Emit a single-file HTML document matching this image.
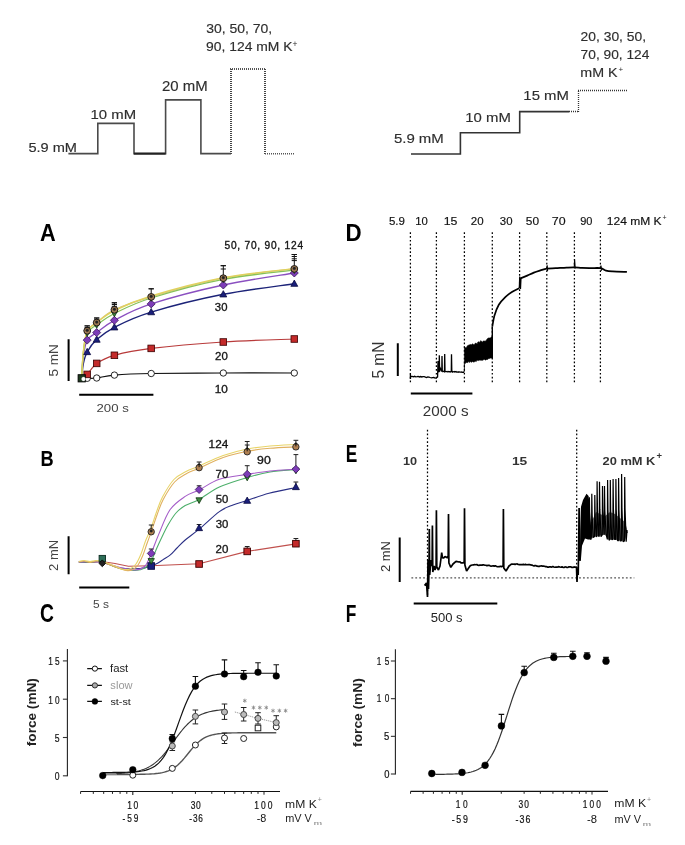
<!DOCTYPE html>
<html><head><meta charset="utf-8"><title>Figure</title>
<style>
html,body{margin:0;padding:0;background:#fff;}
body{width:685px;height:845px;overflow:hidden;}
svg{display:block;font-family:"Liberation Sans",sans-serif;will-change:transform;}
</style></head><body>
<svg width="685" height="845" viewBox="0 0 685 845">
<rect width="685" height="845" fill="#fff"/>
<g fill="none" stroke-linejoin="miter">
<path d="M68.4,153.6 H97.8 V123.4 H134 V153.6 H165.6 V99.9 H200.9 V153.6 H231" stroke="#4a4a4a" stroke-width="1.6"/>
<path d="M134,153.6 H165.6" stroke="#222" stroke-width="2"/>
<path d="M231,154 V69" stroke="#444" stroke-width="2" stroke-dasharray="1,1"/>
<path d="M230,69 H266" stroke="#555" stroke-width="1.8" stroke-dasharray="1,1"/>
<path d="M265,69 V154" stroke="#444" stroke-width="2" stroke-dasharray="1,1"/>
<path d="M265,153.8 H295" stroke="#555" stroke-width="1.6" stroke-dasharray="1,1"/>
<path d="M411,154 H460.4 V132.8 H519.7 V111.6 H569" stroke="#333" stroke-width="1.6"/>
<path d="M569,111.5 H578" stroke="#333" stroke-width="1.3" stroke-dasharray="1,1"/>
<path d="M578.5,112 V90" stroke="#333" stroke-width="1.3" stroke-dasharray="1,1"/>
<path d="M578,90.5 H628" stroke="#333" stroke-width="1.3" stroke-dasharray="1,1"/>
</g>
<text x="28.42" y="151.50" style="font-size:13.37px;" fill="#2e2e2e" textLength="48.58" lengthAdjust="spacingAndGlyphs" stroke="#2e2e2e" stroke-width="0.15">5.9 mM</text>
<text x="90.56" y="119.30" style="font-size:13.37px;" fill="#2e2e2e" textLength="45.56" lengthAdjust="spacingAndGlyphs" stroke="#2e2e2e" stroke-width="0.15">10 mM</text>
<text x="162.05" y="90.90" style="font-size:13.95px;" fill="#2e2e2e" textLength="45.68" lengthAdjust="spacingAndGlyphs" stroke="#2e2e2e" stroke-width="0.15">20 mM</text>
<text x="206.17" y="33.10" style="font-size:13.23px;" fill="#2e2e2e" textLength="66.09" lengthAdjust="spacingAndGlyphs" stroke="#2e2e2e" stroke-width="0.15">30, 50, 70,</text>
<text x="206.05" y="50.90" style="font-size:12.94px;" fill="#2e2e2e" textLength="86.41" lengthAdjust="spacingAndGlyphs" stroke="#2e2e2e" stroke-width="0.15">90, 124 mM K</text>
<text x="292.6" y="47.2" style="font-size:8.5px" fill="#2e2e2e">+</text>
<text x="393.90" y="143.00" style="font-size:13.66px;" fill="#2e2e2e" textLength="49.93" lengthAdjust="spacingAndGlyphs" stroke="#2e2e2e" stroke-width="0.15">5.9 mM</text>
<text x="465.26" y="122.00" style="font-size:13.52px;" fill="#2e2e2e" textLength="45.56" lengthAdjust="spacingAndGlyphs" stroke="#2e2e2e" stroke-width="0.15">10 mM</text>
<text x="523.36" y="99.70" style="font-size:13.23px;" fill="#2e2e2e" textLength="45.56" lengthAdjust="spacingAndGlyphs" stroke="#2e2e2e" stroke-width="0.15">15 mM</text>
<text x="580.60" y="41.30" style="font-size:13.37px;" fill="#2e2e2e" textLength="65.44" lengthAdjust="spacingAndGlyphs" stroke="#2e2e2e" stroke-width="0.15">20, 30, 50,</text>
<text x="580.60" y="58.90" style="font-size:13.23px;" fill="#2e2e2e" textLength="68.81" lengthAdjust="spacingAndGlyphs" stroke="#2e2e2e" stroke-width="0.15">70, 90, 124</text>
<text x="580.35" y="77.10" style="font-size:13.66px;" fill="#2e2e2e" textLength="37.31" lengthAdjust="spacingAndGlyphs" stroke="#2e2e2e" stroke-width="0.15">mM K</text>
<text x="618.5" y="71.5" style="font-size:8px" fill="#2e2e2e">+</text>
<text x="39.96" y="240.70" style="font-size:23.40px;font-weight:bold;" fill="#000" textLength="15.72" lengthAdjust="spacingAndGlyphs">A</text>
<text x="40.48" y="465.70" style="font-size:22.97px;font-weight:bold;" fill="#000" textLength="13.14" lengthAdjust="spacingAndGlyphs">B</text>
<text x="40.01" y="621.60" style="font-size:24.85px;font-weight:bold;" fill="#000" textLength="13.92" lengthAdjust="spacingAndGlyphs">C</text>
<text x="345.51" y="240.70" style="font-size:23.40px;font-weight:bold;" fill="#000" textLength="16.13" lengthAdjust="spacingAndGlyphs">D</text>
<text x="345.84" y="462.40" style="font-size:24.13px;font-weight:bold;" fill="#000" textLength="11.53" lengthAdjust="spacingAndGlyphs">E</text>
<text x="345.84" y="621.70" style="font-size:24.13px;font-weight:bold;" fill="#000" textLength="10.60" lengthAdjust="spacingAndGlyphs">F</text>
<g>
<path d="M81.70,378.30 C81.97,378.30 82.38,378.30 83.30,378.30 C84.22,378.30 84.97,378.35 87.20,378.30 C89.43,378.25 92.17,378.53 96.70,378.00 C101.23,377.47 105.32,375.85 114.40,375.10 C123.48,374.35 133.05,373.85 151.20,373.50 C169.35,373.15 199.45,373.08 223.30,373.00 C247.15,372.92 282.47,373.00 294.30,373.00" fill="none" stroke="#111" stroke-width="1.20"/>
<path d="M81.70,378.30 C81.97,377.94 82.38,376.80 83.30,376.15 C84.22,375.50 84.97,376.53 87.20,374.40 C89.43,372.27 92.17,366.58 96.70,363.40 C101.23,360.22 105.32,357.80 114.40,355.30 C123.48,352.80 133.05,350.62 151.20,348.40 C169.35,346.18 199.45,343.57 223.30,342.00 C247.15,340.43 282.47,339.50 294.30,339.00" fill="none" stroke="#b83a3a" stroke-width="1.20"/>
<path d="M81.70,378.30 C81.97,375.89 82.38,368.22 83.30,363.83 C84.22,359.45 84.97,356.04 87.20,352.00 C89.43,347.96 92.17,343.72 96.70,339.60 C101.23,335.48 105.32,331.88 114.40,327.30 C123.48,322.72 133.05,317.60 151.20,312.10 C169.35,306.60 199.45,299.03 223.30,294.30 C247.15,289.57 282.47,285.47 294.30,283.70" fill="none" stroke="#1c2378" stroke-width="1.40"/>
<path d="M81.70,378.30 C81.97,374.80 82.38,363.66 83.30,357.29 C84.22,350.92 84.97,344.22 87.20,340.10 C89.43,335.99 92.17,335.90 96.70,332.60 C101.23,329.30 105.32,325.08 114.40,320.30 C123.48,315.52 133.05,309.78 151.20,303.90 C169.35,298.02 199.45,290.15 223.30,285.00 C247.15,279.85 282.47,275.00 294.30,273.00" fill="none" stroke="#8a4fc0" stroke-width="1.30"/>
<path d="M81.70,378.30 C81.97,373.95 82.38,360.09 83.30,352.18 C84.22,344.26 84.97,335.73 87.20,330.80 C89.43,325.87 92.17,326.10 96.70,322.60 C101.23,319.10 105.32,314.08 114.40,309.80 C123.48,305.52 133.05,302.17 151.20,296.90 C169.35,291.63 199.45,282.87 223.30,278.20 C247.15,273.53 282.47,270.45 294.30,268.90" fill="none" stroke="#d8c088" stroke-width="1.20"/>
<path d="M81.70,378.30 C81.97,374.15 82.38,360.94 83.30,353.38 C84.22,345.83 84.97,337.73 87.20,333.00 C89.43,328.27 92.17,328.25 96.70,325.00 C101.23,321.75 105.32,318.00 114.40,313.50 C123.48,309.00 133.05,303.70 151.20,298.00 C169.35,292.30 199.45,283.93 223.30,279.30 C247.15,274.67 282.47,271.72 294.30,270.20" fill="none" stroke="#86c258" stroke-width="1.30"/>
<path d="M81.70,378.30 C81.97,373.96 82.38,360.17 83.30,352.29 C84.22,344.40 84.97,335.95 87.20,331.00 C89.43,326.05 92.17,326.02 96.70,322.60 C101.23,319.18 105.32,314.93 114.40,310.50 C123.48,306.07 133.05,301.45 151.20,296.00 C169.35,290.55 199.45,282.37 223.30,277.80 C247.15,273.23 282.47,270.13 294.30,268.60" fill="none" stroke="#e0d25e" stroke-width="1.40"/>
<path d="M87.20,330.80 V325.90 M84.60,325.90 H89.80" fill="none" stroke="#111" stroke-width="1.00"/>
<path d="M84.60,325.90 H89.80" stroke="#111" stroke-width="1.0"/>
<path d="M84.60,327.50 H89.80" stroke="#111" stroke-width="1.0"/>
<path d="M96.70,322.60 V318.00 M94.10,318.00 H99.30" fill="none" stroke="#111" stroke-width="1.00"/>
<path d="M94.10,318.00 H99.30" stroke="#111" stroke-width="1.0"/>
<path d="M94.10,319.80 H99.30" stroke="#111" stroke-width="1.0"/>
<path d="M114.40,309.80 V302.80 M111.80,302.80 H117.00" fill="none" stroke="#111" stroke-width="1.00"/>
<path d="M111.80,302.80 H117.00" stroke="#111" stroke-width="1.0"/>
<path d="M111.80,304.50 H117.00" stroke="#111" stroke-width="1.0"/>
<path d="M111.80,306.30 H117.00" stroke="#111" stroke-width="1.0"/>
<path d="M151.20,296.90 V288.80 M148.60,288.80 H153.80" fill="none" stroke="#111" stroke-width="1.00"/>
<path d="M148.60,288.80 H153.80" stroke="#111" stroke-width="1.0"/>
<path d="M223.30,278.20 V265.70 M220.70,265.70 H225.90" fill="none" stroke="#111" stroke-width="1.00"/>
<path d="M220.70,265.70 H225.90" stroke="#111" stroke-width="1.0"/>
<path d="M220.70,269.00 H225.90" stroke="#111" stroke-width="1.0"/>
<path d="M294.30,268.90 V254.50 M291.70,254.50 H296.90" fill="none" stroke="#111" stroke-width="1.00"/>
<path d="M291.70,254.50 H296.90" stroke="#111" stroke-width="1.0"/>
<path d="M291.70,256.50 H296.90" stroke="#111" stroke-width="1.0"/>
<path d="M291.70,258.80 H296.90" stroke="#111" stroke-width="1.0"/>
<path d="M291.70,260.60 H296.90" stroke="#111" stroke-width="1.0"/>
<circle cx="87.20" cy="378.30" r="3.20" fill="#fff" stroke="#111" stroke-width="0.90"/>
<rect x="83.90" y="371.10" width="6.60" height="6.60" fill="#c42a2a" stroke="#3a0000" stroke-width="0.80"/>
<path d="M87.20,348.37 L83.73,354.64 L90.67,354.64Z" fill="#1a1f7a" stroke="#0a0a40" stroke-width="0.80"/>
<path d="M87.20,336.10 L91.20,340.10 L87.20,344.10 L83.20,340.10Z" fill="#7d3cb8" stroke="#3a1a5a" stroke-width="0.80"/>
<path d="M87.20,336.30 L84.05,330.60 L90.35,330.60Z" fill="#3d8a3d" stroke="#0a300a" stroke-width="0.80"/>
<circle cx="87.20" cy="330.80" r="3.40" fill="#a07a52" stroke="#111" stroke-width="0.90"/>
<circle cx="87.20" cy="330.30" r="1.40" fill="#222" stroke="#222" stroke-width="0.30"/>
<circle cx="96.70" cy="378.00" r="3.20" fill="#fff" stroke="#111" stroke-width="0.90"/>
<rect x="93.40" y="360.10" width="6.60" height="6.60" fill="#c42a2a" stroke="#3a0000" stroke-width="0.80"/>
<path d="M96.70,335.97 L93.23,342.24 L100.17,342.24Z" fill="#1a1f7a" stroke="#0a0a40" stroke-width="0.80"/>
<path d="M96.70,328.60 L100.70,332.60 L96.70,336.60 L92.70,332.60Z" fill="#7d3cb8" stroke="#3a1a5a" stroke-width="0.80"/>
<path d="M96.70,328.30 L93.55,322.60 L99.85,322.60Z" fill="#3d8a3d" stroke="#0a300a" stroke-width="0.80"/>
<circle cx="96.70" cy="322.60" r="3.40" fill="#a07a52" stroke="#111" stroke-width="0.90"/>
<circle cx="96.70" cy="322.10" r="1.40" fill="#222" stroke="#222" stroke-width="0.30"/>
<circle cx="114.40" cy="375.10" r="3.20" fill="#fff" stroke="#111" stroke-width="0.90"/>
<rect x="111.10" y="352.00" width="6.60" height="6.60" fill="#c42a2a" stroke="#3a0000" stroke-width="0.80"/>
<path d="M114.40,323.67 L110.94,329.94 L117.87,329.94Z" fill="#1a1f7a" stroke="#0a0a40" stroke-width="0.80"/>
<path d="M114.40,316.30 L118.40,320.30 L114.40,324.30 L110.40,320.30Z" fill="#7d3cb8" stroke="#3a1a5a" stroke-width="0.80"/>
<path d="M114.40,316.80 L111.25,311.10 L117.55,311.10Z" fill="#3d8a3d" stroke="#0a300a" stroke-width="0.80"/>
<circle cx="114.40" cy="309.80" r="3.40" fill="#a07a52" stroke="#111" stroke-width="0.90"/>
<circle cx="114.40" cy="309.30" r="1.40" fill="#222" stroke="#222" stroke-width="0.30"/>
<circle cx="151.20" cy="373.50" r="3.20" fill="#fff" stroke="#111" stroke-width="0.90"/>
<rect x="147.90" y="345.10" width="6.60" height="6.60" fill="#c42a2a" stroke="#3a0000" stroke-width="0.80"/>
<path d="M151.20,308.47 L147.73,314.74 L154.66,314.74Z" fill="#1a1f7a" stroke="#0a0a40" stroke-width="0.80"/>
<path d="M151.20,299.90 L155.20,303.90 L151.20,307.90 L147.20,303.90Z" fill="#7d3cb8" stroke="#3a1a5a" stroke-width="0.80"/>
<path d="M151.20,301.30 L148.05,295.60 L154.35,295.60Z" fill="#3d8a3d" stroke="#0a300a" stroke-width="0.80"/>
<circle cx="151.20" cy="296.90" r="3.40" fill="#a07a52" stroke="#111" stroke-width="0.90"/>
<circle cx="151.20" cy="296.40" r="1.40" fill="#222" stroke="#222" stroke-width="0.30"/>
<circle cx="223.30" cy="373.00" r="3.20" fill="#fff" stroke="#111" stroke-width="0.90"/>
<rect x="220.00" y="338.70" width="6.60" height="6.60" fill="#c42a2a" stroke="#3a0000" stroke-width="0.80"/>
<path d="M223.30,290.67 L219.84,296.94 L226.77,296.94Z" fill="#1a1f7a" stroke="#0a0a40" stroke-width="0.80"/>
<path d="M223.30,281.00 L227.30,285.00 L223.30,289.00 L219.30,285.00Z" fill="#7d3cb8" stroke="#3a1a5a" stroke-width="0.80"/>
<path d="M223.30,282.60 L220.15,276.90 L226.45,276.90Z" fill="#3d8a3d" stroke="#0a300a" stroke-width="0.80"/>
<circle cx="223.30" cy="278.20" r="3.40" fill="#a07a52" stroke="#111" stroke-width="0.90"/>
<circle cx="223.30" cy="277.70" r="1.40" fill="#222" stroke="#222" stroke-width="0.30"/>
<circle cx="294.30" cy="373.00" r="3.20" fill="#fff" stroke="#111" stroke-width="0.90"/>
<rect x="291.00" y="335.70" width="6.60" height="6.60" fill="#c42a2a" stroke="#3a0000" stroke-width="0.80"/>
<path d="M294.30,280.07 L290.84,286.34 L297.76,286.34Z" fill="#1a1f7a" stroke="#0a0a40" stroke-width="0.80"/>
<path d="M294.30,269.00 L298.30,273.00 L294.30,277.00 L290.30,273.00Z" fill="#7d3cb8" stroke="#3a1a5a" stroke-width="0.80"/>
<path d="M294.30,273.50 L291.15,267.80 L297.45,267.80Z" fill="#3d8a3d" stroke="#0a300a" stroke-width="0.80"/>
<circle cx="294.30" cy="268.90" r="3.40" fill="#a07a52" stroke="#111" stroke-width="0.90"/>
<circle cx="294.30" cy="268.40" r="1.40" fill="#222" stroke="#222" stroke-width="0.30"/>
<rect x="78.10" y="374.70" width="7.20" height="7.20" fill="#1f3a1f" stroke="#000" stroke-width="0.90"/>
<circle cx="83.50" cy="379.00" r="2.00" fill="#fff" stroke="#fff" stroke-width="0.20"/>
</g>
<text transform="translate(224.90 248.50) scale(1.000 1)" x="-0.41" y="0" style="font-size:10.17px;letter-spacing:0.77px;" fill="#151515" stroke="#151515" stroke-width="0.35">50, 70, 90, 124</text>
<text x="214.87" y="310.70" style="font-size:10.17px;" fill="#151515" textLength="12.57" lengthAdjust="spacingAndGlyphs" stroke="#151515" stroke-width="0.30">30</text>
<text x="215.02" y="360.20" style="font-size:10.17px;" fill="#151515" textLength="12.72" lengthAdjust="spacingAndGlyphs" stroke="#151515" stroke-width="0.30">20</text>
<text x="214.71" y="392.50" style="font-size:10.17px;" fill="#151515" textLength="13.05" lengthAdjust="spacingAndGlyphs" stroke="#151515" stroke-width="0.30">10</text>
<path d="M68.6,339.2 V381.1 M79.2,394.8 H153.4" stroke="#000" stroke-width="2" fill="none"/>
<text transform="translate(53.80 360.70) rotate(-90)" x="-15.89" y="4.60" style="font-size:13.37px;" fill="#444" textLength="32.35" lengthAdjust="spacingAndGlyphs">5 mN</text>
<text x="96.54" y="411.70" style="font-size:10.76px;" fill="#444" textLength="32.24" lengthAdjust="spacingAndGlyphs">200 s</text>
<g>
<path d="M78.80,562.00 L90.00,562.50 L101.70,561.50 L115.00,563.50 L128.30,566.30 L151.20,565.80 L175.00,564.80 L199.10,563.80 L247.20,551.40 L295.90,543.90" fill="none" stroke="#c0504d" stroke-width="1.10"/>
<path d="M78.80,562.00 C80.67,562.00 86.08,562.00 90.00,562.00 C93.92,562.00 97.30,561.00 102.30,562.00 C107.30,563.00 113.72,566.92 120.00,568.00 C126.28,569.08 134.80,568.83 140.00,568.50 C145.20,568.17 148.20,566.92 151.20,566.00 C154.20,565.08 155.87,564.17 158.00,563.00 C160.13,561.83 162.00,560.30 164.00,559.00 C166.00,557.70 167.83,557.03 170.00,555.20 C172.17,553.37 174.47,550.53 177.00,548.00 C179.53,545.47 181.52,543.13 185.20,540.00 C188.88,536.87 193.40,533.93 199.10,529.20 C204.80,524.47 213.75,515.63 219.40,511.60 C225.05,507.57 228.37,506.87 233.00,505.00 C237.63,503.13 241.20,502.35 247.20,500.40 C253.20,498.45 260.88,495.45 269.00,493.30 C277.12,491.15 291.42,488.47 295.90,487.50" fill="none" stroke="#2a2f85" stroke-width="1.10"/>
<path d="M78.80,562.00 C80.67,562.00 86.08,562.00 90.00,562.00 C93.92,562.00 97.30,560.92 102.30,562.00 C107.30,563.08 114.55,567.08 120.00,568.50 C125.45,569.92 130.83,570.58 135.00,570.50 C139.17,570.42 142.30,569.58 145.00,568.00 C147.70,566.42 149.37,564.00 151.20,561.00 C153.03,558.00 154.37,553.67 156.00,550.00 C157.63,546.33 159.00,543.17 161.00,539.00 C163.00,534.83 165.50,529.33 168.00,525.00 C170.50,520.67 173.13,516.25 176.00,513.00 C178.87,509.75 181.35,507.75 185.20,505.50 C189.05,503.25 193.40,502.58 199.10,499.50 C204.80,496.42 211.38,490.67 219.40,487.00 C227.42,483.33 238.77,480.00 247.20,477.50 C255.63,475.00 261.88,473.33 270.00,472.00 C278.12,470.67 291.58,469.92 295.90,469.50" fill="none" stroke="#4caf6a" stroke-width="1.10"/>
<path d="M78.80,562.00 C80.67,561.92 86.08,561.42 90.00,561.50 C93.92,561.58 97.30,561.50 102.30,562.50 C107.30,563.50 114.55,566.25 120.00,567.50 C125.45,568.75 130.83,570.25 135.00,570.00 C139.17,569.75 142.30,568.77 145.00,566.00 C147.70,563.23 148.92,558.67 151.20,553.40 C153.48,548.13 155.57,541.68 158.70,534.40 C161.83,527.12 165.58,516.03 170.00,509.70 C174.42,503.37 180.35,499.68 185.20,496.40 C190.05,493.12 193.40,492.85 199.10,490.00 C204.80,487.15 211.38,481.90 219.40,479.30 C227.42,476.70 238.77,475.78 247.20,474.40 C255.63,473.02 261.88,471.87 270.00,471.00 C278.12,470.13 291.58,469.50 295.90,469.20" fill="none" stroke="#a45cc8" stroke-width="1.10"/>
<path d="M78.80,562.00 C79.67,561.83 82.13,560.92 84.00,561.00 C85.87,561.08 88.00,562.50 90.00,562.50 C92.00,562.50 93.95,561.08 96.00,561.00 C98.05,560.92 99.13,561.00 102.30,562.00 C105.47,563.00 111.05,565.58 115.00,567.00 C118.95,568.42 123.00,570.08 126.00,570.50 C129.00,570.92 131.00,570.42 133.00,569.50 C135.00,568.58 136.33,567.42 138.00,565.00 C139.67,562.58 141.50,558.58 143.00,555.00 C144.50,551.42 145.63,547.33 147.00,543.50 C148.37,539.67 149.53,536.75 151.20,532.00 C152.87,527.25 155.00,520.42 157.00,515.00 C159.00,509.58 160.27,505.00 163.20,499.50 C166.13,494.00 170.68,486.33 174.60,482.00 C178.52,477.67 182.62,475.80 186.70,473.50 C190.78,471.20 193.02,470.85 199.10,468.20 C205.18,465.55 215.18,460.42 223.20,457.60 C231.22,454.78 239.40,452.85 247.20,451.30 C255.00,449.75 261.88,449.03 270.00,448.30 C278.12,447.57 291.58,447.13 295.90,446.90" fill="none" stroke="#e0b060" stroke-width="1.10"/>
<path d="M78.80,561.50 C79.67,561.33 82.13,560.50 84.00,560.50 C85.87,560.50 88.00,561.50 90.00,561.50 C92.00,561.50 93.95,560.50 96.00,560.50 C98.05,560.50 99.13,560.58 102.30,561.50 C105.47,562.42 111.38,564.67 115.00,566.00 C118.62,567.33 121.33,569.08 124.00,569.50 C126.67,569.92 129.00,569.42 131.00,568.50 C133.00,567.58 134.33,566.42 136.00,564.00 C137.67,561.58 139.42,557.83 141.00,554.00 C142.58,550.17 143.80,545.42 145.50,541.00 C147.20,536.58 149.37,532.33 151.20,527.50 C153.03,522.67 154.62,517.08 156.50,512.00 C158.38,506.92 159.60,502.42 162.50,497.00 C165.40,491.58 169.98,483.75 173.90,479.50 C177.82,475.25 181.80,473.75 186.00,471.50 C190.20,469.25 192.90,468.67 199.10,466.00 C205.30,463.33 215.18,458.33 223.20,455.50 C231.22,452.67 239.40,450.58 247.20,449.00 C255.00,447.42 261.88,446.75 270.00,446.00 C278.12,445.25 291.58,444.75 295.90,444.50" fill="none" stroke="#e8d468" stroke-width="1.10"/>
<path d="M151.20,531.80 V525.00 M148.80,525.00 H153.60" fill="none" stroke="#222" stroke-width="1.00"/>
<path d="M199.10,467.70 V462.00 M196.70,462.00 H201.50" fill="none" stroke="#222" stroke-width="1.00"/>
<path d="M247.20,451.80 V441.50 M244.80,441.50 H249.60" fill="none" stroke="#222" stroke-width="1.00"/>
<path d="M295.90,446.90 V440.30 M293.50,440.30 H298.30" fill="none" stroke="#222" stroke-width="1.00"/>
<path d="M199.10,489.60 V485.80 M196.70,485.80 H201.50" fill="none" stroke="#222" stroke-width="1.00"/>
<path d="M247.20,474.20 V465.70 M244.80,465.70 H249.60" fill="none" stroke="#222" stroke-width="1.00"/>
<path d="M295.90,469.20 V454.60 M293.50,454.60 H298.30" fill="none" stroke="#222" stroke-width="1.00"/>
<path d="M295.90,487.60 V482.00 M293.50,482.00 H298.30" fill="none" stroke="#222" stroke-width="1.00"/>
<path d="M247.20,551.40 V546.50 M244.80,546.50 H249.60" fill="none" stroke="#222" stroke-width="1.00"/>
<path d="M295.90,543.70 V538.50 M293.50,538.50 H298.30" fill="none" stroke="#222" stroke-width="1.00"/>
<path d="M199.10,528.00 V524.50 M196.70,524.50 H201.50" fill="none" stroke="#222" stroke-width="1.00"/>
<path d="M151.20,553.40 V549.00 M148.80,549.00 H153.60" fill="none" stroke="#222" stroke-width="1.00"/>
<path d="M247.20,448.00 V445.00 M244.80,445.00 H249.60" fill="none" stroke="#222" stroke-width="1.00"/>
<rect x="99.10" y="555.40" width="6.40" height="6.40" fill="#2e6e58" stroke="#0a2a20" stroke-width="0.90"/>
<path d="M102.30,559.90 L105.70,563.30 L102.30,566.70 L98.90,563.30Z" fill="#222" stroke="#000" stroke-width="0.80"/>
<rect x="147.90" y="562.70" width="6.60" height="6.60" fill="#1a1f7a" stroke="#0a0a40" stroke-width="0.90"/>
<path d="M151.20,564.30 L148.05,558.60 L154.35,558.60Z" fill="#3d8a3d" stroke="#0a300a" stroke-width="0.80"/>
<path d="M151.20,549.50 L155.10,553.40 L151.20,557.30 L147.30,553.40Z" fill="#7d3cb8" stroke="#3a1a5a" stroke-width="0.80"/>
<circle cx="151.20" cy="531.80" r="3.20" fill="#b08050" stroke="#222" stroke-width="0.90"/>
<circle cx="151.20" cy="531.00" r="1.30" fill="#222" stroke="#222" stroke-width="0.30"/>
<rect x="195.80" y="560.70" width="6.60" height="6.60" fill="#c42a2a" stroke="#3a0000" stroke-width="0.90"/>
<path d="M199.10,524.37 L195.63,530.64 L202.56,530.64Z" fill="#1a1f7a" stroke="#0a0a40" stroke-width="0.80"/>
<path d="M199.10,503.50 L195.95,497.80 L202.25,497.80Z" fill="#3d8a3d" stroke="#0a300a" stroke-width="0.80"/>
<path d="M199.10,485.70 L203.00,489.60 L199.10,493.50 L195.20,489.60Z" fill="#7d3cb8" stroke="#3a1a5a" stroke-width="0.80"/>
<circle cx="199.10" cy="467.70" r="3.20" fill="#b08050" stroke="#222" stroke-width="0.90"/>
<path d="M199.10,467.20 l0,-4 M197.60,464.50 l3,0" stroke="#111" stroke-width="1.0"/>
<rect x="243.90" y="548.10" width="6.60" height="6.60" fill="#c42a2a" stroke="#3a0000" stroke-width="0.90"/>
<path d="M247.20,497.07 L243.73,503.34 L250.66,503.34Z" fill="#1a1f7a" stroke="#0a0a40" stroke-width="0.80"/>
<path d="M247.20,480.80 L244.05,475.10 L250.35,475.10Z" fill="#3d8a3d" stroke="#0a300a" stroke-width="0.80"/>
<path d="M247.20,470.30 L251.10,474.20 L247.20,478.10 L243.30,474.20Z" fill="#7d3cb8" stroke="#3a1a5a" stroke-width="0.80"/>
<circle cx="247.20" cy="451.80" r="3.20" fill="#b08050" stroke="#222" stroke-width="0.90"/>
<path d="M247.20,451.30 l0,-4 M245.70,448.60 l3,0" stroke="#111" stroke-width="1.0"/>
<rect x="292.60" y="540.40" width="6.60" height="6.60" fill="#c42a2a" stroke="#3a0000" stroke-width="0.90"/>
<path d="M295.90,483.37 L292.44,489.64 L299.36,489.64Z" fill="#1a1f7a" stroke="#0a0a40" stroke-width="0.80"/>
<path d="M295.90,473.80 L292.75,468.10 L299.05,468.10Z" fill="#3d8a3d" stroke="#0a300a" stroke-width="0.80"/>
<path d="M295.90,465.30 L299.80,469.20 L295.90,473.10 L292.00,469.20Z" fill="#7d3cb8" stroke="#3a1a5a" stroke-width="0.80"/>
<circle cx="295.90" cy="446.90" r="3.20" fill="#b08050" stroke="#222" stroke-width="0.90"/>
<path d="M295.90,446.40 l0,-4 M294.40,443.70 l3,0" stroke="#111" stroke-width="1.0"/>
</g>
<text x="208.60" y="447.80" style="font-size:10.17px;" fill="#151515" textLength="19.64" lengthAdjust="spacingAndGlyphs" stroke="#151515" stroke-width="0.30">124</text>
<text x="257.12" y="464.40" style="font-size:10.17px;" fill="#151515" textLength="13.65" lengthAdjust="spacingAndGlyphs" stroke="#151515" stroke-width="0.30">90</text>
<text x="215.61" y="477.60" style="font-size:10.17px;" fill="#151515" textLength="12.73" lengthAdjust="spacingAndGlyphs" stroke="#151515" stroke-width="0.30">70</text>
<text x="215.75" y="503.00" style="font-size:10.17px;" fill="#151515" textLength="12.60" lengthAdjust="spacingAndGlyphs" stroke="#151515" stroke-width="0.30">50</text>
<text x="215.77" y="528.00" style="font-size:10.47px;" fill="#151515" textLength="12.68" lengthAdjust="spacingAndGlyphs" stroke="#151515" stroke-width="0.30">30</text>
<text x="215.62" y="552.90" style="font-size:10.61px;" fill="#151515" textLength="12.83" lengthAdjust="spacingAndGlyphs" stroke="#151515" stroke-width="0.30">20</text>
<path d="M68.6,536.3 V574.2 M79.2,587.4 H129.3" stroke="#000" stroke-width="2" fill="none"/>
<text transform="translate(53.50 555.60) rotate(-90)" x="-15.36" y="4.30" style="font-size:12.50px;" fill="#444" textLength="31.12" lengthAdjust="spacingAndGlyphs">2 mN</text>
<text x="93.02" y="607.90" style="font-size:11.63px;" fill="#444" textLength="15.91" lengthAdjust="spacingAndGlyphs">5 s</text>
<path d="M67.40,649.00 V776.30" stroke="#222" stroke-width="1.1" fill="none"/>
<path d="M62.90,775.80 H67.40" stroke="#333" stroke-width="1.1"/>
<path d="M62.90,737.50 H67.40" stroke="#333" stroke-width="1.1"/>
<path d="M62.90,699.20 H67.40" stroke="#333" stroke-width="1.1"/>
<path d="M62.90,660.90 H67.40" stroke="#333" stroke-width="1.1"/>
<path d="M80.59,791.50 H280.00" stroke="#111" stroke-width="1.2" fill="none"/>
<path d="M80.59,791.50 V793.90" stroke="#222" stroke-width="1.0"/>
<path d="M93.30,791.50 V793.90" stroke="#222" stroke-width="1.0"/>
<path d="M103.69,791.50 V793.90" stroke="#222" stroke-width="1.0"/>
<path d="M112.48,791.50 V793.90" stroke="#222" stroke-width="1.0"/>
<path d="M120.09,791.50 V793.90" stroke="#222" stroke-width="1.0"/>
<path d="M126.80,791.50 V793.90" stroke="#222" stroke-width="1.0"/>
<path d="M172.30,791.50 V793.90" stroke="#222" stroke-width="1.0"/>
<path d="M195.40,791.50 V793.90" stroke="#222" stroke-width="1.0"/>
<path d="M211.79,791.50 V793.90" stroke="#222" stroke-width="1.0"/>
<path d="M224.50,791.50 V793.90" stroke="#222" stroke-width="1.0"/>
<path d="M234.89,791.50 V793.90" stroke="#222" stroke-width="1.0"/>
<path d="M243.68,791.50 V793.90" stroke="#222" stroke-width="1.0"/>
<path d="M251.29,791.50 V793.90" stroke="#222" stroke-width="1.0"/>
<path d="M258.00,791.50 V793.90" stroke="#222" stroke-width="1.0"/>
<path d="M264.00,791.50 V794.70" stroke="#222" stroke-width="1.0"/>
<path d="M132.80,791.50 V794.90" stroke="#222" stroke-width="1.1"/>
<text transform="translate(48.90 664.95) scale(0.800 1)" x="-0.79" y="0" style="font-size:10.32px;letter-spacing:2.74px;" fill="#111" stroke="#111" stroke-width="0.20">15</text>
<text transform="translate(48.90 703.65) scale(0.800 1)" x="-0.79" y="0" style="font-size:10.32px;letter-spacing:2.71px;" fill="#111" stroke="#111" stroke-width="0.20">10</text>
<text x="54.85" y="741.95" style="font-size:10.32px;" fill="#111" textLength="4.81" lengthAdjust="spacingAndGlyphs" stroke="#111" stroke-width="0.20">5</text>
<text x="54.86" y="780.15" style="font-size:10.32px;" fill="#111" textLength="4.77" lengthAdjust="spacingAndGlyphs" stroke="#111" stroke-width="0.20">0</text>
<text transform="translate(31.70 712.40) rotate(-90)" x="-33.83" y="4.60" style="font-size:13.40px;font-weight:bold;" fill="#222" textLength="68.11" lengthAdjust="spacingAndGlyphs">force (mN)</text>
<text transform="translate(127.90 808.60) scale(0.800 1)" x="-0.81" y="0" style="font-size:10.61px;letter-spacing:2.05px;" fill="#111" stroke="#111" stroke-width="0.20">10</text>
<text transform="translate(191.00 808.60) scale(0.800 1)" x="-0.40" y="0" style="font-size:10.61px;letter-spacing:0.77px;" fill="#111" stroke="#111" stroke-width="0.20">30</text>
<text transform="translate(254.90 808.60) scale(0.800 1)" x="-0.81" y="0" style="font-size:10.61px;letter-spacing:2.51px;" fill="#111" stroke="#111" stroke-width="0.20">100</text>
<text transform="translate(122.80 822.00) scale(0.800 1)" x="-0.46" y="0" style="font-size:10.32px;letter-spacing:2.52px;" fill="#111" stroke="#111" stroke-width="0.20">-59</text>
<text transform="translate(189.70 822.00) scale(0.800 1)" x="-0.46" y="0" style="font-size:10.32px;letter-spacing:1.06px;" fill="#111" stroke="#111" stroke-width="0.20">-36</text>
<text x="256.72" y="822.00" style="font-size:10.32px;" fill="#111" textLength="9.65" lengthAdjust="spacingAndGlyphs">-8</text>
<text x="285.10" y="807.50" style="font-size:11.19px;" fill="#222" textLength="31.64" lengthAdjust="spacingAndGlyphs">mM K</text>
<text x="317.8" y="801.5" style="font-size:7px" fill="#888">+</text>
<text x="285.18" y="821.80" style="font-size:11.19px;" fill="#222" textLength="26.67" lengthAdjust="spacingAndGlyphs">mV V</text>
<text x="313.84" y="824.80" style="font-size:5.52px;" fill="#777" textLength="8.32" lengthAdjust="spacingAndGlyphs">m</text>
<path d="M116.41,774.45 L118.41,774.45 L120.40,774.45 L122.40,774.44 L124.40,774.44 L126.40,774.43 L128.40,774.43 L130.39,774.42 L132.39,774.40 L134.39,774.39 L136.39,774.37 L138.39,774.35 L140.39,774.32 L142.38,774.28 L144.38,774.23 L146.38,774.17 L148.38,774.09 L150.38,774.00 L152.37,773.87 L154.37,773.72 L156.37,773.52 L158.37,773.28 L160.37,772.97 L162.36,772.59 L164.36,772.12 L166.36,771.53 L168.36,770.81 L170.36,769.94 L172.36,768.89 L174.35,767.64 L176.35,766.17 L178.35,764.47 L180.35,762.56 L182.35,760.43 L184.34,758.14 L186.34,755.72 L188.34,753.24 L190.34,750.78 L192.34,748.39 L194.33,746.13 L196.33,744.06 L198.33,742.21 L200.33,740.57 L202.33,739.16 L204.32,737.97 L206.32,736.97 L208.32,736.14 L210.32,735.46 L212.32,734.90 L214.32,734.46 L216.31,734.10 L218.31,733.81 L220.31,733.58 L222.31,733.39 L224.31,733.25 L226.30,733.13 L228.30,733.04 L230.30,732.97 L232.30,732.91 L234.30,732.87 L236.29,732.83 L238.29,732.80 L240.29,732.78 L242.29,732.76 L244.29,732.75 L246.29,732.74 L248.28,732.73 L250.28,732.72 L252.28,732.72 L254.28,732.71 L256.28,732.71 L258.27,732.71 L260.27,732.70 L262.27,732.70 L264.27,732.70 L266.27,732.70 L268.26,732.70 L270.26,732.70 L272.26,732.70 L274.26,732.70 L276.26,732.70" fill="none" stroke="#555" stroke-width="1.4"/>
<path d="M102.74,773.97 L104.26,773.95 L105.78,773.92 L107.30,773.89 L108.82,773.86 L110.35,773.82 L111.87,773.78 L113.39,773.73 L114.91,773.68 L116.43,773.62 L117.96,773.55 L119.48,773.47 L121.00,773.38 L122.52,773.27 L124.05,773.16 L125.57,773.03 L127.09,772.88 L128.61,772.71 L130.13,772.52 L131.66,772.31 L133.18,772.06 L134.70,771.79 L136.22,771.48 L137.74,771.14 L139.27,770.75 L140.79,770.31 L142.31,769.82 L143.83,769.27 L145.35,768.66 L146.88,767.98 L148.40,767.22 L149.92,766.39 L151.44,765.46 L152.97,764.45 L154.49,763.34 L156.01,762.13 L157.53,760.82 L159.05,759.40 L160.58,757.88 L162.10,756.26 L163.62,754.54 L165.14,752.73 L166.66,750.84 L168.19,748.88 L169.71,746.86 L171.23,744.79 L172.75,742.70 L174.28,740.60 L175.80,738.50 L177.32,736.43 L178.84,734.40 L180.36,732.42 L181.89,730.51 L183.41,728.68 L184.93,726.95 L186.45,725.30 L187.97,723.76 L189.50,722.32 L191.02,720.99 L192.54,719.76 L194.06,718.63 L195.58,717.59 L197.11,716.65 L198.63,715.80 L200.15,715.03 L201.67,714.33 L203.20,713.71 L204.72,713.14 L206.24,712.64 L207.76,712.19 L209.28,711.79 L210.81,711.44 L212.33,711.12 L213.85,710.84 L215.37,710.59 L216.89,710.37 L218.42,710.18 L219.94,710.01 L221.46,709.85 L222.98,709.72 L224.50,709.60" fill="none" stroke="#333" stroke-width="1.1"/>
<path d="M102.74,772.52 L104.90,772.51 L107.07,772.51 L109.24,772.50 L111.41,772.49 L113.58,772.47 L115.75,772.46 L117.92,772.43 L120.09,772.40 L122.26,772.37 L124.43,772.32 L126.59,772.26 L128.76,772.18 L130.93,772.08 L133.10,771.96 L135.27,771.80 L137.44,771.60 L139.61,771.34 L141.78,771.01 L143.95,770.59 L146.12,770.07 L148.29,769.40 L150.45,768.57 L152.62,767.52 L154.79,766.21 L156.96,764.60 L159.13,762.61 L161.30,760.19 L163.47,757.29 L165.64,753.85 L167.81,749.85 L169.98,745.28 L172.14,740.17 L174.31,734.61 L176.48,728.73 L178.65,722.67 L180.82,716.62 L182.99,710.75 L185.16,705.22 L187.33,700.15 L189.50,695.62 L191.67,691.65 L193.83,688.25 L196.00,685.39 L198.17,683.00 L200.34,681.05 L202.51,679.45 L204.68,678.17 L206.85,677.14 L209.02,676.32 L211.19,675.66 L213.36,675.14 L215.52,674.73 L217.69,674.41 L219.86,674.16 L222.03,673.96 L224.20,673.80 L226.37,673.68 L228.54,673.58 L230.71,673.51 L232.88,673.45 L235.05,673.40 L237.21,673.36 L239.38,673.34 L241.55,673.31 L243.72,673.30 L245.89,673.28 L248.06,673.27 L250.23,673.26 L252.40,673.26 L254.57,673.25 L256.74,673.25 L258.90,673.24 L261.07,673.24 L263.24,673.24 L265.41,673.24 L267.58,673.24 L269.75,673.24 L271.92,673.24 L274.09,673.23 L276.26,673.23" fill="none" stroke="#111" stroke-width="1.2"/>
<path d="M102.74,774.27 H116.41" stroke="#888" stroke-width="2.2"/>
<path d="M234.89,712.00 L258.00,718.40 L276.26,722.60" fill="none" stroke="#888" stroke-width="1" stroke-dasharray="1,1"/>
<path d="M172.30,738.60 V734.50 M169.50,734.50 H175.10" fill="none" stroke="#111" stroke-width="1.10"/>
<path d="M195.40,686.20 V676.50 M192.60,676.50 H198.20" fill="none" stroke="#111" stroke-width="1.10"/>
<path d="M224.50,674.00 V659.90 M221.70,659.90 H227.30" fill="none" stroke="#111" stroke-width="1.10"/>
<path d="M243.68,676.70 V670.50 M240.88,670.50 H246.48" fill="none" stroke="#111" stroke-width="1.10"/>
<path d="M258.00,672.30 V662.80 M255.20,662.80 H260.80" fill="none" stroke="#111" stroke-width="1.10"/>
<path d="M276.26,676.00 V664.80 M273.46,664.80 H279.06" fill="none" stroke="#111" stroke-width="1.10"/>
<path d="M172.30,741.80 V750.50 M169.50,741.80 h5.6 M169.50,750.50 h5.6" stroke="#222" stroke-width="1.0" fill="none"/>
<path d="M195.40,710.00 V723.90 M192.60,710.00 h5.6 M192.60,723.90 h5.6" stroke="#222" stroke-width="1.0" fill="none"/>
<path d="M224.50,704.00 V719.40 M221.70,704.00 h5.6 M221.70,719.40 h5.6" stroke="#222" stroke-width="1.0" fill="none"/>
<path d="M243.68,707.50 V721.00 M240.88,707.50 h5.6 M240.88,721.00 h5.6" stroke="#222" stroke-width="1.0" fill="none"/>
<path d="M258.00,712.70 V724.00 M255.20,712.70 h5.6 M255.20,724.00 h5.6" stroke="#222" stroke-width="1.0" fill="none"/>
<path d="M276.26,715.70 V728.00 M273.46,715.70 h5.6 M273.46,728.00 h5.6" stroke="#222" stroke-width="1.0" fill="none"/>
<path d="M224.50,733 V743.5 M221.70,733 h5.6 M221.70,743.5 h5.6" stroke="#222" stroke-width="1.0" fill="none"/>
<circle cx="132.80" cy="775.20" r="3.00" fill="#fff" stroke="#222" stroke-width="1.00"/>
<circle cx="172.30" cy="768.40" r="3.00" fill="#fff" stroke="#222" stroke-width="1.00"/>
<circle cx="195.40" cy="745.00" r="3.00" fill="#fff" stroke="#222" stroke-width="1.00"/>
<circle cx="224.50" cy="738.00" r="3.00" fill="#fff" stroke="#222" stroke-width="1.00"/>
<circle cx="243.68" cy="738.50" r="3.00" fill="#fff" stroke="#222" stroke-width="1.00"/>
<rect x="255.20" y="725.20" width="5.60" height="5.60" fill="#fff" stroke="#222" stroke-width="1.00"/>
<circle cx="276.26" cy="726.90" r="3.00" fill="#fff" stroke="#222" stroke-width="1.00"/>
<circle cx="172.30" cy="746.00" r="3.00" fill="#bbb" stroke="#444" stroke-width="1.00"/>
<circle cx="195.40" cy="716.40" r="3.00" fill="#bbb" stroke="#444" stroke-width="1.00"/>
<circle cx="224.50" cy="712.00" r="3.00" fill="#bbb" stroke="#444" stroke-width="1.00"/>
<circle cx="243.68" cy="714.50" r="3.00" fill="#bbb" stroke="#444" stroke-width="1.00"/>
<circle cx="258.00" cy="718.40" r="3.00" fill="#bbb" stroke="#444" stroke-width="1.00"/>
<circle cx="276.26" cy="722.60" r="3.00" fill="#bbb" stroke="#444" stroke-width="1.00"/>
<circle cx="102.74" cy="775.60" r="3.30" fill="#000" stroke="#000" stroke-width="0.50"/>
<circle cx="132.80" cy="769.70" r="3.30" fill="#000" stroke="#000" stroke-width="0.50"/>
<circle cx="172.30" cy="738.60" r="3.30" fill="#000" stroke="#000" stroke-width="0.50"/>
<circle cx="195.40" cy="686.20" r="3.30" fill="#000" stroke="#000" stroke-width="0.50"/>
<circle cx="224.50" cy="674.00" r="3.30" fill="#000" stroke="#000" stroke-width="0.50"/>
<circle cx="243.68" cy="676.70" r="3.30" fill="#000" stroke="#000" stroke-width="0.50"/>
<circle cx="258.00" cy="672.30" r="3.30" fill="#000" stroke="#000" stroke-width="0.50"/>
<circle cx="276.26" cy="676.00" r="3.30" fill="#000" stroke="#000" stroke-width="0.50"/>
<path d="M244.80,698.70 V702.70 M243.07,699.70 L246.53,701.70 M246.53,699.70 L243.07,701.70" stroke="#8a8a8a" stroke-width="0.9" fill="none"/>
<path d="M253.50,705.60 V709.60 M251.77,706.60 L255.23,708.60 M255.23,706.60 L251.77,708.60" stroke="#8a8a8a" stroke-width="0.9" fill="none"/>
<path d="M259.80,705.60 V709.60 M258.07,706.60 L261.53,708.60 M261.53,706.60 L258.07,708.60" stroke="#8a8a8a" stroke-width="0.9" fill="none"/>
<path d="M266.30,705.60 V709.60 M264.57,706.60 L268.03,708.60 M268.03,706.60 L264.57,708.60" stroke="#8a8a8a" stroke-width="0.9" fill="none"/>
<path d="M273.00,708.70 V712.70 M271.27,709.70 L274.73,711.70 M274.73,709.70 L271.27,711.70" stroke="#8a8a8a" stroke-width="0.9" fill="none"/>
<path d="M279.40,708.70 V712.70 M277.67,709.70 L281.13,711.70 M281.13,709.70 L277.67,711.70" stroke="#8a8a8a" stroke-width="0.9" fill="none"/>
<path d="M285.60,708.70 V712.70 M283.87,709.70 L287.33,711.70 M287.33,709.70 L283.87,711.70" stroke="#8a8a8a" stroke-width="0.9" fill="none"/>
<path d="M87.2,668.6 H101.9 M87.2,685.4 H101.9 M87.2,701.4 H101.9" stroke="#111" stroke-width="1.1"/>
<circle cx="94.90" cy="668.60" r="2.60" fill="#fff" stroke="#111" stroke-width="1.00"/>
<circle cx="94.90" cy="685.40" r="2.60" fill="#aaa" stroke="#333" stroke-width="1.00"/>
<circle cx="94.90" cy="701.40" r="2.90" fill="#000" stroke="#000" stroke-width="0.50"/>
<text x="110.04" y="671.80" style="font-size:11.05px;" fill="#222" textLength="18.24" lengthAdjust="spacingAndGlyphs">fast</text>
<text x="110.39" y="688.70" style="font-size:10.17px;" fill="#999" textLength="22.18" lengthAdjust="spacingAndGlyphs">slow</text>
<text x="110.40" y="704.80" style="font-size:9.30px;" fill="#222" textLength="20.48" lengthAdjust="spacingAndGlyphs">st-st</text>
<path d="M395.40,649.20 V774.50" stroke="#222" stroke-width="1.1" fill="none"/>
<path d="M390.90,774.00 H395.40" stroke="#333" stroke-width="1.1"/>
<path d="M390.90,736.34 H395.40" stroke="#333" stroke-width="1.1"/>
<path d="M390.90,698.67 H395.40" stroke="#333" stroke-width="1.1"/>
<path d="M390.90,661.00 H395.40" stroke="#333" stroke-width="1.1"/>
<path d="M410.55,791.40 H608.00" stroke="#111" stroke-width="1.2" fill="none"/>
<path d="M410.55,791.40 V793.80" stroke="#222" stroke-width="1.0"/>
<path d="M423.13,791.40 V793.80" stroke="#222" stroke-width="1.0"/>
<path d="M433.40,791.40 V793.80" stroke="#222" stroke-width="1.0"/>
<path d="M442.09,791.40 V793.80" stroke="#222" stroke-width="1.0"/>
<path d="M449.62,791.40 V793.80" stroke="#222" stroke-width="1.0"/>
<path d="M456.26,791.40 V793.80" stroke="#222" stroke-width="1.0"/>
<path d="M501.27,791.40 V793.80" stroke="#222" stroke-width="1.0"/>
<path d="M524.13,791.40 V793.80" stroke="#222" stroke-width="1.0"/>
<path d="M540.35,791.40 V793.80" stroke="#222" stroke-width="1.0"/>
<path d="M552.93,791.40 V793.80" stroke="#222" stroke-width="1.0"/>
<path d="M563.20,791.40 V793.80" stroke="#222" stroke-width="1.0"/>
<path d="M571.89,791.40 V793.80" stroke="#222" stroke-width="1.0"/>
<path d="M579.42,791.40 V793.80" stroke="#222" stroke-width="1.0"/>
<path d="M586.06,791.40 V793.80" stroke="#222" stroke-width="1.0"/>
<path d="M592.00,791.40 V794.60" stroke="#222" stroke-width="1.0"/>
<path d="M462.20,791.40 V794.80" stroke="#222" stroke-width="1.1"/>
<text transform="translate(377.40 664.55) scale(0.800 1)" x="-0.79" y="0" style="font-size:10.32px;letter-spacing:4.24px;" fill="#111" stroke="#111" stroke-width="0.20">15</text>
<text transform="translate(377.40 702.15) scale(0.800 1)" x="-0.79" y="0" style="font-size:10.32px;letter-spacing:4.21px;" fill="#111" stroke="#111" stroke-width="0.20">10</text>
<text x="384.12" y="739.95" style="font-size:10.32px;" fill="#111" textLength="5.28" lengthAdjust="spacingAndGlyphs" stroke="#111" stroke-width="0.20">5</text>
<text x="384.13" y="777.85" style="font-size:10.32px;" fill="#111" textLength="5.24" lengthAdjust="spacingAndGlyphs" stroke="#111" stroke-width="0.20">0</text>
<text transform="translate(357.00 712.80) rotate(-90)" x="-34.08" y="4.60" style="font-size:13.40px;font-weight:bold;" fill="#222" textLength="68.62" lengthAdjust="spacingAndGlyphs">force (mN)</text>
<text transform="translate(456.40 808.00) scale(0.800 1)" x="-0.80" y="0" style="font-size:10.47px;letter-spacing:3.32px;" fill="#111" stroke="#111" stroke-width="0.20">10</text>
<text transform="translate(518.80 808.00) scale(0.800 1)" x="-0.40" y="0" style="font-size:10.47px;letter-spacing:1.42px;" fill="#111" stroke="#111" stroke-width="0.20">30</text>
<text transform="translate(583.50 808.00) scale(0.800 1)" x="-0.80" y="0" style="font-size:10.47px;letter-spacing:2.50px;" fill="#111" stroke="#111" stroke-width="0.20">100</text>
<text transform="translate(452.20 822.90) scale(0.800 1)" x="-0.49" y="0" style="font-size:11.05px;letter-spacing:2.02px;" fill="#111" stroke="#111" stroke-width="0.20">-59</text>
<text transform="translate(516.00 822.90) scale(0.800 1)" x="-0.49" y="0" style="font-size:11.05px;letter-spacing:1.26px;" fill="#111" stroke="#111" stroke-width="0.20">-36</text>
<text x="587.00" y="822.90" style="font-size:11.05px;" fill="#111" textLength="9.99" lengthAdjust="spacingAndGlyphs">-8</text>
<text x="614.29" y="807.30" style="font-size:11.19px;" fill="#222" textLength="31.85" lengthAdjust="spacingAndGlyphs">mM K</text>
<text x="647.0" y="801.5" style="font-size:7px" fill="#888">+</text>
<text x="614.38" y="822.60" style="font-size:11.19px;" fill="#222" textLength="26.67" lengthAdjust="spacingAndGlyphs">mV V</text>
<text x="642.84" y="825.60" style="font-size:5.52px;" fill="#777" textLength="8.32" lengthAdjust="spacingAndGlyphs">m</text>
<path d="M435.25,774.36 L436.96,774.34 L438.67,774.33 L440.38,774.32 L442.08,774.30 L443.79,774.28 L445.50,774.25 L447.21,774.22 L448.92,774.18 L450.62,774.14 L452.33,774.08 L454.04,774.02 L455.75,773.94 L457.46,773.84 L459.16,773.73 L460.87,773.59 L462.58,773.43 L464.29,773.24 L466.00,773.00 L467.70,772.72 L469.41,772.39 L471.12,771.99 L472.83,771.51 L474.54,770.94 L476.24,770.27 L477.95,769.46 L479.66,768.51 L481.37,767.39 L483.08,766.07 L484.78,764.53 L486.49,762.73 L488.20,760.64 L489.91,758.24 L491.62,755.49 L493.32,752.38 L495.03,748.89 L496.74,745.01 L498.45,740.76 L500.16,736.16 L501.87,731.25 L503.57,726.09 L505.28,720.76 L506.99,715.34 L508.70,709.91 L510.41,704.58 L512.11,699.43 L513.82,694.52 L515.53,689.93 L517.24,685.68 L518.95,681.81 L520.65,678.32 L522.36,675.21 L524.07,672.47 L525.78,670.07 L527.49,667.99 L529.19,666.19 L530.90,664.65 L532.61,663.33 L534.32,662.21 L536.03,661.27 L537.73,660.47 L539.44,659.79 L541.15,659.22 L542.86,658.75 L544.57,658.35 L546.27,658.01 L547.98,657.74 L549.69,657.50 L551.40,657.31 L553.11,657.14 L554.81,657.01 L556.52,656.90 L558.23,656.80 L559.94,656.72 L561.65,656.66 L563.35,656.60 L565.06,656.56 L566.77,656.52 L568.48,656.49 L570.19,656.46 L571.89,656.44" fill="none" stroke="#333" stroke-width="1.2"/>
<circle cx="431.80" cy="773.50" r="3.40" fill="#000" stroke="#000" stroke-width="0.50"/>
<circle cx="462.00" cy="772.40" r="3.40" fill="#000" stroke="#000" stroke-width="0.50"/>
<circle cx="485.10" cy="765.30" r="3.40" fill="#000" stroke="#000" stroke-width="0.50"/>
<path d="M501.40,725.90 V714.40 M498.60,714.40 H504.20" fill="none" stroke="#111" stroke-width="1.10"/>
<circle cx="501.40" cy="725.90" r="3.40" fill="#000" stroke="#000" stroke-width="0.50"/>
<path d="M524.20,672.60 V666.30 M521.40,666.30 H527.00" fill="none" stroke="#111" stroke-width="1.10"/>
<circle cx="524.20" cy="672.60" r="3.40" fill="#000" stroke="#000" stroke-width="0.50"/>
<path d="M553.80,657.40 V653.30 M551.00,653.30 H556.60" fill="none" stroke="#111" stroke-width="1.10"/>
<circle cx="553.80" cy="657.40" r="3.40" fill="#000" stroke="#000" stroke-width="0.50"/>
<path d="M572.80,656.30 V651.20 M570.00,651.20 H575.60" fill="none" stroke="#111" stroke-width="1.10"/>
<circle cx="572.80" cy="656.30" r="3.40" fill="#000" stroke="#000" stroke-width="0.50"/>
<path d="M587.00,656.30 V652.70 M584.20,652.70 H589.80" fill="none" stroke="#111" stroke-width="1.10"/>
<circle cx="587.00" cy="656.30" r="3.40" fill="#000" stroke="#000" stroke-width="0.50"/>
<path d="M606.00,661.20 V657.40 M603.20,657.40 H608.80" fill="none" stroke="#111" stroke-width="1.10"/>
<circle cx="606.00" cy="661.20" r="3.40" fill="#000" stroke="#000" stroke-width="0.50"/>
<path d="M410.40,232.3 V383.7" stroke="#000" stroke-width="1.25" stroke-dasharray="1.7,2.1" fill="none"/>
<path d="M436.40,232.3 V383.7" stroke="#000" stroke-width="1.25" stroke-dasharray="1.7,2.1" fill="none"/>
<path d="M464.40,232.3 V383.7" stroke="#000" stroke-width="1.25" stroke-dasharray="1.7,2.1" fill="none"/>
<path d="M492.30,232.3 V383.7" stroke="#000" stroke-width="1.25" stroke-dasharray="1.7,2.1" fill="none"/>
<path d="M519.60,232.3 V383.7" stroke="#000" stroke-width="1.25" stroke-dasharray="1.7,2.1" fill="none"/>
<path d="M546.80,232.3 V383.7" stroke="#000" stroke-width="1.25" stroke-dasharray="1.7,2.1" fill="none"/>
<path d="M574.40,232.3 V383.7" stroke="#000" stroke-width="1.25" stroke-dasharray="1.7,2.1" fill="none"/>
<path d="M600.40,232.3 V383.7" stroke="#000" stroke-width="1.25" stroke-dasharray="1.7,2.1" fill="none"/>
<text x="388.94" y="224.50" style="font-size:10.32px;" fill="#111" textLength="16.01" lengthAdjust="spacingAndGlyphs" stroke="#111" stroke-width="0.15">5.9</text>
<text x="415.34" y="224.50" style="font-size:10.32px;" fill="#111" textLength="12.61" lengthAdjust="spacingAndGlyphs" stroke="#111" stroke-width="0.15">10</text>
<text x="443.66" y="224.50" style="font-size:10.32px;" fill="#111" textLength="13.76" lengthAdjust="spacingAndGlyphs" stroke="#111" stroke-width="0.15">15</text>
<text x="470.82" y="224.50" style="font-size:10.32px;" fill="#111" textLength="12.83" lengthAdjust="spacingAndGlyphs" stroke="#111" stroke-width="0.15">20</text>
<text x="499.87" y="224.50" style="font-size:10.32px;" fill="#111" textLength="12.68" lengthAdjust="spacingAndGlyphs" stroke="#111" stroke-width="0.15">30</text>
<text x="525.82" y="224.50" style="font-size:10.32px;" fill="#111" textLength="13.24" lengthAdjust="spacingAndGlyphs" stroke="#111" stroke-width="0.15">50</text>
<text x="551.86" y="224.50" style="font-size:10.32px;" fill="#111" textLength="13.82" lengthAdjust="spacingAndGlyphs" stroke="#111" stroke-width="0.15">70</text>
<text x="580.18" y="224.50" style="font-size:10.32px;" fill="#111" textLength="12.25" lengthAdjust="spacingAndGlyphs" stroke="#111" stroke-width="0.15">90</text>
<text x="606.78" y="224.50" style="font-size:10.32px;" fill="#111" textLength="54.85" lengthAdjust="spacingAndGlyphs" stroke="#111" stroke-width="0.15">124 mM K</text>
<text x="662.5" y="219.5" style="font-size:7px" fill="#222">+</text>
<path d="M410.40,373.50 L410.40,379.00 L410.80,376.50 L411.00,376.42 L412.20,376.30 L413.40,376.85 L414.60,376.32 L415.80,376.83 L417.00,376.71 L418.20,376.45 L419.40,376.94 L420.60,376.52 L421.80,376.97 L423.00,376.65 L424.20,376.72 L425.40,377.10 L426.60,377.55 L427.80,376.90 L429.00,377.04 L430.20,377.50 L431.40,377.86 L432.60,377.54 L433.80,377.41 L435.00,378.04 L436.40,377.80 L437.60,377.00 L438.00,361.00 L438.40,368.00 L438.60,371.47 L439.10,371.00 L439.30,355.20 L439.60,371.00 L439.20,370.07 L439.10,371.00 L439.30,355.20 L439.60,371.00 L439.80,370.82 L440.40,368.29 L441.00,369.49 L441.80,371.00 L442.00,356.10 L442.30,371.00 L441.60,370.17 L441.80,371.00 L442.00,356.10 L442.30,371.00 L442.20,371.10 L442.80,371.12 L443.40,371.25 L444.00,371.65 L444.50,371.00 L444.70,354.00 L445.00,371.00 L444.60,371.47 L444.50,371.00 L444.70,354.00 L445.00,371.00 L445.20,371.39 L445.80,371.63 L446.40,371.54 L447.00,371.44 L447.60,371.85 L448.20,371.79 L448.80,371.44 L449.40,371.73 L450.00,371.71 L450.60,372.00 L451.30,371.00 L451.50,354.20 L451.80,371.00 L451.20,371.90 L451.30,371.00 L451.50,354.20 L451.80,371.00 L451.80,371.57 L452.40,372.14 L453.00,371.47 L453.60,371.73 L454.20,372.02 L454.80,371.55 L455.40,371.84 L456.00,371.49 L456.60,372.02 L457.20,372.11 L457.80,371.97 L458.40,372.23 L459.00,371.80 L459.60,372.13 L460.20,372.06 L460.80,372.07 L461.40,371.99 L462.00,372.31 L462.60,372.41 L463.20,372.06 L463.80,372.23 L464.40,372.20" fill="none" stroke="#000" stroke-width="1.3"/>
<path d="M464.40,371.50 L464.40,352.00 L464.40,346.55 L465.30,347.63 L466.20,347.73 L467.10,346.37 L468.00,345.18 L468.90,345.21 L469.80,344.63 L470.70,344.47 L471.60,344.78 L472.50,343.72 L473.40,344.53 L474.30,344.85 L475.20,343.24 L476.10,343.11 L477.00,344.23 L477.90,342.03 L478.80,341.85 L479.70,342.38 L480.60,340.66 L481.50,341.22 L482.40,342.30 L483.30,340.93 L484.20,341.00 L485.10,341.21 L486.00,340.83 L486.90,339.36 L487.80,338.35 L488.70,337.93 L489.60,337.96 L490.50,337.95 L491.40,336.82 L492.30,336.74 L492.30,358.28 L491.40,358.08 L490.50,358.07 L489.60,358.39 L488.70,358.38 L487.80,359.42 L486.90,359.19 L486.00,359.97 L485.10,360.08 L484.20,359.06 L483.30,360.11 L482.40,360.37 L481.50,360.31 L480.60,360.22 L479.70,360.11 L478.80,360.60 L477.90,360.34 L477.00,360.35 L476.10,361.67 L475.20,361.06 L474.30,361.92 L473.40,362.09 L472.50,361.54 L471.60,362.36 L470.70,361.50 L469.80,362.48 L468.90,361.58 L468.00,362.27 L467.10,362.74 L466.20,362.27 L465.30,363.55 L464.40,363.22Z" fill="#000" stroke="#000" stroke-width="0.6"/>
<path d="M492.30,326.60 C492.65,324.78 493.32,319.35 494.40,315.70 C495.48,312.05 496.98,307.80 498.80,304.70 C500.62,301.60 503.12,299.22 505.30,297.10 C507.48,294.98 509.60,293.47 511.90,292.00 C514.20,290.53 517.90,288.92 519.10,288.30" fill="none" stroke="#000" stroke-width="1.7"/>
<path d="M492.3,358 V326.6" stroke="#000" stroke-width="1.4"/>
<path d="M519.3,288.3 L519.7,276.5 L520.5,289 L521,278.5" fill="none" stroke="#000" stroke-width="1.2"/>
<path d="M520.00,278.50 C521.20,278.02 524.90,276.58 527.20,275.60 C529.50,274.62 531.60,273.47 533.80,272.60 C536.00,271.73 538.22,271.07 540.40,270.40 C542.58,269.73 544.35,268.97 546.90,268.60 C549.45,268.23 552.42,268.37 555.70,268.20 C558.98,268.03 563.50,267.73 566.60,267.60 C569.70,267.47 571.73,267.35 574.30,267.40 C576.87,267.45 579.22,267.78 582.00,267.90 C584.78,268.02 587.90,268.05 591.00,268.10 C594.10,268.15 598.10,267.78 600.60,268.20 C603.10,268.62 604.00,270.07 606.00,270.60 C608.00,271.13 609.12,271.18 612.60,271.40 C616.08,271.62 624.52,271.82 626.90,271.90" fill="none" stroke="#000" stroke-width="1.8"/>
<path d="M546.9,268.8 L547.2,265.3 L547.6,271 M574.3,266.6 L574.6,259.2 L575.2,268.5 M600.6,267.8 L601,265.5 L601.5,270.8" fill="none" stroke="#000" stroke-width="1.1"/>
<path d="M397.8,343.3 V376 M410.8,393.5 H472.4" stroke="#000" stroke-width="2" fill="none"/>
<text transform="translate(378.50 360.40) rotate(-90)" x="-18.12" y="5.75" style="font-size:16.72px;" fill="#333" textLength="36.88" lengthAdjust="spacingAndGlyphs">5 mN</text>
<text x="422.83" y="415.50" style="font-size:14.83px;" fill="#333" textLength="45.72" lengthAdjust="spacingAndGlyphs">2000 s</text>
<path d="M427.5,429.8 V597 M576.7,429.8 V581.2" stroke="#000" stroke-width="1.25" stroke-dasharray="1.7,2.1" fill="none"/>
<path d="M411.4,577.9 H634.3" stroke="#555" stroke-width="1.4" stroke-dasharray="1.8,2.1" fill="none"/>
<text x="403.00" y="465.10" style="font-size:11.34px;font-weight:bold;" fill="#333" textLength="14.12" lengthAdjust="spacingAndGlyphs">10</text>
<text x="511.93" y="465.40" style="font-size:11.19px;font-weight:bold;" fill="#333" textLength="15.35" lengthAdjust="spacingAndGlyphs">15</text>
<text x="602.55" y="465.00" style="font-size:11.05px;font-weight:bold;" fill="#333" textLength="52.86" lengthAdjust="spacingAndGlyphs">20 mM K</text>
<text x="656.6" y="459.2" style="font-size:9.5px;font-weight:bold" fill="#333">+</text>
<path d="M424.50,585.50 L426.50,583.00 L427.50,597.00 L428.00,560.00 L428.50,589.00 L429.00,570.00 L429.30,528.90 L429.70,575.00 L431.00,560.00 L432.10,566.00 L432.40,525.40 L432.80,572.00 L434.00,566.00 L435.00,570.00 L436.10,566.00 L436.40,510.20 L436.80,567.00 L438.50,570.00 L440.00,566.00 L441.30,556.00 L441.70,552.60 L442.50,558.00 L443.80,557.80 L445.00,556.50 L447.30,557.80 L448.20,556.00 L448.50,514.00 L448.90,563.00 L450.80,567.40 L453.00,564.00 L456.00,561.30 L459.00,562.00 L460.00,561.82 L461.00,562.84 L462.00,562.85 L463.00,563.00 L464.20,562.00 L464.50,508.20 L464.90,565.00 L466.60,571.00 L470.00,566.00 L471.20,565.28 L472.40,564.98 L473.60,564.80 L474.67,564.70 L475.73,564.74 L476.80,564.56 L477.87,565.25 L478.93,565.41 L480.00,565.00 L481.00,565.05 L482.00,565.15 L483.00,564.87 L484.00,564.96 L485.00,565.26 L486.00,565.27 L487.00,565.86 L488.00,565.34 L489.00,565.29 L490.00,565.80 L491.05,566.28 L492.11,565.97 L493.16,565.70 L494.22,566.13 L495.27,565.74 L496.33,566.26 L497.38,566.74 L498.44,566.71 L499.49,566.63 L500.55,566.31 L501.60,566.60 L503.10,566.00 L503.40,509.10 L503.80,568.00 L506.00,571.00 L509.00,566.00 L510.03,565.21 L511.07,564.37 L512.10,564.00 L513.13,564.28 L514.15,564.10 L515.18,564.36 L516.21,563.99 L517.24,563.93 L518.26,564.50 L519.29,564.69 L520.32,564.61 L521.35,564.60 L522.37,564.65 L523.40,564.40 L524.45,564.72 L525.51,564.37 L526.56,564.74 L527.62,564.71 L528.67,564.52 L529.73,564.63 L530.78,564.97 L531.84,565.06 L532.89,565.56 L533.95,565.90 L535.00,565.60 L536.06,565.65 L537.13,566.19 L538.19,566.34 L539.25,566.41 L540.32,565.98 L541.38,565.95 L542.45,566.05 L543.51,566.13 L544.57,566.23 L545.64,566.71 L546.70,566.70 L547.72,567.08 L548.75,567.05 L549.77,566.75 L550.79,566.93 L551.82,567.09 L552.84,566.46 L553.86,567.01 L554.88,567.25 L555.91,567.16 L556.93,567.16 L557.95,566.93 L558.98,566.69 L560.00,567.00 L561.00,567.27 L562.00,566.88 L563.00,567.31 L564.00,567.48 L565.00,566.97 L566.00,566.99 L567.00,567.50 L568.00,567.31 L569.00,566.82 L570.00,566.80 L571.00,566.83 L572.00,567.52 L573.00,567.45 L574.00,566.87 L575.00,567.20 L576.50,567.30 L577.00,581.90 L577.50,570.00 L578.20,575.00 L579.20,507.90 L579.80,560.00" fill="none" stroke="#000" stroke-width="1.7" stroke-linejoin="bevel"/>
<path d="M579.80,561.00 L580.30,530.00 L581.00,506.70 L583.00,500.00 L586.50,493.70 L588.60,496.00 L589.60,505.00 L590.50,520.00 L591.50,532.00 L591.00,539.50 L588.00,539.50 L585.00,538.60 L582.00,545.70 L580.80,561.00Z" fill="#000"/>
<path d="M591.50,522.00 L596.00,512.00 L600.00,514.00 L605.00,516.00 L610.00,512.00 L615.00,514.00 L620.00,518.00 L625.00,522.00 L627.00,529.00 L627.00,533.00 L625.00,541.00 L620.00,540.50 L614.00,539.50 L608.00,539.40 L605.00,534.40 L600.00,535.40 L594.00,537.00 L591.50,539.00Z" fill="#000" opacity="0.62"/>
<path d="M579.3,561 V507.9" stroke="#000" stroke-width="1.2"/>
<path d="M589.15,539.00 L589.40,497.20 L589.75,518.10 L590.90,539.65 L591.55,536.50 L591.80,493.70 L592.15,515.10 L593.30,537.46 L594.55,536.50 L594.80,494.90 L595.15,515.70 L596.30,536.81 L596.85,536.50 L597.10,481.20 L597.45,508.85 L598.60,536.20 L599.25,536.50 L599.50,481.80 L599.85,509.15 L601.00,536.60 L602.25,534.80 L602.50,486.10 L602.85,510.45 L604.00,534.06 L604.25,534.80 L604.50,486.10 L604.85,510.45 L606.00,533.83 L607.35,539.40 L607.60,480.10 L607.95,509.75 L609.10,540.34 L610.05,539.40 L610.30,480.10 L610.65,509.75 L611.80,539.70 L612.85,539.40 L613.10,479.10 L613.45,509.25 L614.60,539.45 L615.65,539.40 L615.90,479.10 L616.25,509.25 L617.40,540.27 L618.35,541.00 L618.60,478.10 L618.95,509.55 L620.10,540.87 L621.35,541.00 L621.60,474.10 L621.95,507.55 L623.10,541.74 L624.45,541.00 L624.70,477.10 L625.05,509.05 L626.20,541.65 L627.00,530.10 L627.20,533.00" fill="none" stroke="#000" stroke-width="1.2" stroke-linejoin="bevel"/>
<path d="M399.7,537.5 V581.9 M413.7,603.4 H497.3" stroke="#000" stroke-width="2" fill="none"/>
<text transform="translate(385.70 556.80) rotate(-90)" x="-15.25" y="4.20" style="font-size:12.21px;" fill="#333" textLength="30.91" lengthAdjust="spacingAndGlyphs">2 mN</text>
<text x="430.68" y="622.10" style="font-size:12.21px;" fill="#222" textLength="31.89" lengthAdjust="spacingAndGlyphs">500 s</text>
</svg>
</body></html>
